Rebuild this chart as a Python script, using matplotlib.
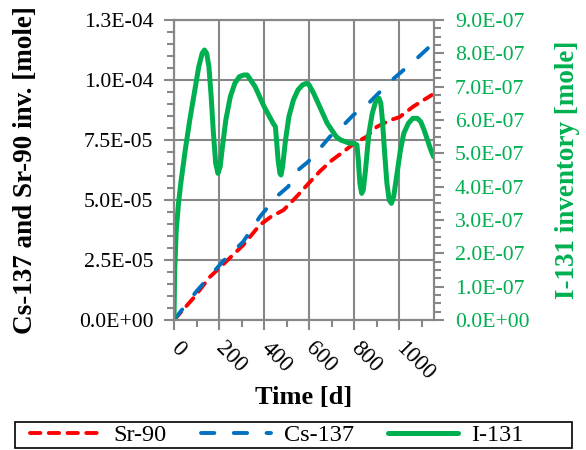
import numpy as np
import matplotlib
matplotlib.use("Agg")
import matplotlib.pyplot as plt
from matplotlib.ticker import MultipleLocator, FuncFormatter
from matplotlib.patches import Rectangle

plt.rcParams['font.family'] = ['Liberation Serif', 'DejaVu Serif']
plt.rcParams['lines.scale_dashes'] = False

# Sr-90 inventory [mole]
t_sr = [0, 85, 160, 233, 307, 381, 430, 486, 540, 604, 648, 700, 750, 800,
        855, 900, 960, 1000, 1063, 1144]
sr90 = [0, 0.9e-5, 1.8e-5, 2.45e-5, 3.12e-5, 3.96e-5, 4.3e-5, 4.58e-5, 5.1e-5,
        5.76e-5, 6.2e-5, 6.65e-5, 7.0e-5, 7.36e-5, 7.64e-5, 8.05e-5, 8.33e-5,
        8.45e-5, 8.9e-5, 9.375e-5]

# Cs-137 inventory [mole]
t_cs = [0, 100, 216, 307, 381, 455, 507, 551, 596, 648, 692, 745, 796, 856,
        908, 959, 1011, 1070, 1122, 1140]
cs137 = [0, 1.2e-5, 2.43e-5, 3.26e-5, 4.3e-5, 5.14e-5, 5.56e-5, 6.25e-5,
         6.6e-5, 7.15e-5, 7.64e-5, 8.05e-5, 8.54e-5, 8.96e-5, 9.45e-5,
         9.93e-5, 1.035e-4, 1.083e-4, 1.128e-4, 1.145e-4]

# I-131 inventory [mole]
t_i = [0, 3, 10, 20, 30, 50, 70, 90, 110, 125, 135, 145, 155, 165, 175, 185,
       195, 205, 215, 230, 250, 270, 290, 310, 325, 340, 360, 380, 400, 420,
       440, 450, 455, 462, 470, 475, 482, 495, 510, 530, 550, 570, 588, 600,
       620, 640, 660, 680, 700, 720, 740, 760, 780, 800, 812, 818, 825, 833,
       840, 850, 865, 880, 895, 910, 918, 925, 935, 945, 955, 965, 975, 990,
       1005, 1020, 1040, 1060, 1080, 1095, 1110, 1125, 1140, 1152]
i131 = [0, 1.5, 2.7, 3.5, 4.1, 5.1, 6.0, 6.8, 7.6, 8.0, 8.1, 8.0, 7.6, 6.7,
        5.6, 4.7, 4.4, 4.6, 5.2, 6.0, 6.7, 7.1, 7.3, 7.35, 7.35, 7.2, 7.0,
        6.7, 6.4, 6.15, 5.9, 5.8, 5.4, 4.8, 4.4, 4.35, 4.6, 5.4, 6.1, 6.6,
        6.9, 7.05, 7.1, 7.05, 6.8, 6.5, 6.2, 5.9, 5.7, 5.5, 5.4, 5.35, 5.3,
        5.3, 5.25, 4.8, 4.1, 3.8, 3.9, 4.5, 5.6, 6.2, 6.55, 6.65, 6.5, 6.0,
        5.0, 4.1, 3.6, 3.5, 3.7, 4.4, 5.1, 5.6, 5.9, 6.05, 6.05, 5.95, 5.7,
        5.4, 5.1, 4.9]
i131 = [v * 1e-7 for v in i131]

left_ticks = [0, 2.5e-5, 5e-5, 7.5e-5, 1e-4, 1.25e-4]
left_labels = ['0.0E+00', '2.5E-05', '5.0E-05', '7.5E-05', '1.0E-04', '1.3E-04']

gray = '#878787'
red = '#FF0000'
blue = '#0070C0'
green = '#00B050'

W, H = 586, 450
fig = plt.figure(figsize=(W / 100, H / 100), dpi=100)
ax = fig.add_axes([174 / W, 1 - 320 / H, 260 / W, 300 / H])
ax2 = ax.twinx()

l1, = ax.plot(t_sr, sr90, color=red, lw=2.8, dashes=(7.5, 6),
              dash_capstyle='round', label='Sr-90')
l2, = ax.plot(t_cs, cs137, color=blue, lw=2.8, dashes=(9.6, 14),
              dash_capstyle='round', label='Cs-137')
l3, = ax2.plot(t_i, i131, color=green, lw=3.6, solid_joinstyle='round',
               solid_capstyle='round', label='I-131')

ax.set_xlim(0, 1154)
ax.set_ylim(0, 1.25e-4)
ax2.set_ylim(0, 9e-7)

ax.xaxis.set_major_locator(MultipleLocator(200))
ax.xaxis.set_minor_locator(MultipleLocator(100))
ax.set_yticks(left_ticks)
ax.set_yticklabels(left_labels)
ax.yaxis.set_minor_locator(MultipleLocator(5e-6))
ax2.yaxis.set_major_locator(MultipleLocator(1e-7))
ax2.yaxis.set_minor_locator(MultipleLocator(2.5e-8))
ax2.yaxis.set_major_formatter(FuncFormatter(lambda v, p: '%.1E' % v))

ax.grid(True, which='major', color=gray, lw=1.5)
ax.set_axisbelow(True)

for a in (ax, ax2):
    for s in a.spines.values():
        s.set_color(gray)
        s.set_linewidth(1.5)
    a.tick_params(which='major', direction='out', length=7, width=1.5,
                  color=gray, labelsize=15.7, pad=8)
    a.tick_params(which='minor', direction='out', length=5, width=1.5,
                  color=gray)

ax2.tick_params(axis='y', labelcolor=green)
ax.tick_params(axis='x', labelsize=16.5, pad=11)

for lab in ax.get_xticklabels():
    lab.set_rotation(-45)
    lab.set_ha('left')
    lab.set_va('center')
    lab.set_rotation_mode('anchor')

ax.set_xlabel('Time [d]', fontsize=19, fontweight='bold', labelpad=1)
ax.set_ylabel('Cs-137 and Sr-90 inv. [mole]', fontsize=19.5, fontweight='bold')
ax.yaxis.set_label_coords(-0.525, 0.5)
ax2.set_ylabel('I-131 inventory [mole]', fontsize=19.5, fontweight='bold',
               color=green)
ax2.yaxis.set_label_coords(1.465, 0.5)

leg = fig.legend(handles=[l1, l2, l3], loc='center left', ncol=3,
                 bbox_to_anchor=(30 / W, 1 - 435 / H), fontsize=17.5,
                 frameon=False, handlelength=2.88, borderaxespad=0,
                 borderpad=0, handletextpad=0.55, columnspacing=1.4)
fig.patches.append(Rectangle((15 / W, 1 - 448 / H), 557 / W, 26 / H,
                             transform=fig.transFigure, fill=False,
                             edgecolor='black', lw=1.2))

fig.savefig('out.png', dpi=100)
